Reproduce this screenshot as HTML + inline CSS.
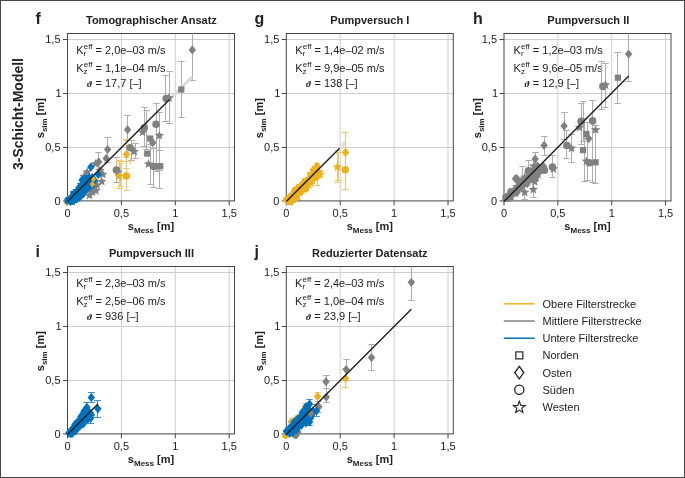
<!DOCTYPE html><html><head><meta charset="utf-8"><style>html,body{margin:0;padding:0;background:#fff;overflow:hidden;}svg{display:block;will-change:transform;}text{font-family:"Liberation Sans", sans-serif;fill:#222;}.tk{font-size:11px;}.ti{font-size:11px;font-weight:bold;}.lt{font-size:16px;font-weight:bold;}.xl{font-size:11px;font-weight:bold;}.an{font-size:11px;}.lg{font-size:11px;}</style></head><body>
<svg width="685" height="478" viewBox="0 0 685 478">
<rect x="0.5" y="0.5" width="684" height="477" fill="#fff" stroke="#474747" stroke-width="1"/>
<line x1="121.40" y1="33.5" x2="121.40" y2="200.9" stroke="#cdcdcd" stroke-width="1"/>
<line x1="67.5" y1="147.50" x2="234.5" y2="147.50" stroke="#cdcdcd" stroke-width="1"/>
<line x1="175.30" y1="33.5" x2="175.30" y2="200.9" stroke="#cdcdcd" stroke-width="1"/>
<line x1="67.5" y1="93.50" x2="234.5" y2="93.50" stroke="#cdcdcd" stroke-width="1"/>
<line x1="229.20" y1="33.5" x2="229.20" y2="200.9" stroke="#cdcdcd" stroke-width="1"/>
<line x1="67.5" y1="39.50" x2="234.5" y2="39.50" stroke="#cdcdcd" stroke-width="1"/>
<line x1="340.20" y1="33.5" x2="340.20" y2="200.9" stroke="#cdcdcd" stroke-width="1"/>
<line x1="286.3" y1="147.50" x2="453.3" y2="147.50" stroke="#cdcdcd" stroke-width="1"/>
<line x1="394.10" y1="33.5" x2="394.10" y2="200.9" stroke="#cdcdcd" stroke-width="1"/>
<line x1="286.3" y1="93.50" x2="453.3" y2="93.50" stroke="#cdcdcd" stroke-width="1"/>
<line x1="448.00" y1="33.5" x2="448.00" y2="200.9" stroke="#cdcdcd" stroke-width="1"/>
<line x1="286.3" y1="39.50" x2="453.3" y2="39.50" stroke="#cdcdcd" stroke-width="1"/>
<line x1="557.85" y1="33.5" x2="557.85" y2="200.9" stroke="#cdcdcd" stroke-width="1"/>
<line x1="504.0" y1="147.50" x2="671.0" y2="147.50" stroke="#cdcdcd" stroke-width="1"/>
<line x1="611.70" y1="33.5" x2="611.70" y2="200.9" stroke="#cdcdcd" stroke-width="1"/>
<line x1="504.0" y1="93.50" x2="671.0" y2="93.50" stroke="#cdcdcd" stroke-width="1"/>
<line x1="665.55" y1="33.5" x2="665.55" y2="200.9" stroke="#cdcdcd" stroke-width="1"/>
<line x1="504.0" y1="39.50" x2="671.0" y2="39.50" stroke="#cdcdcd" stroke-width="1"/>
<line x1="121.40" y1="266.5" x2="121.40" y2="433.9" stroke="#cdcdcd" stroke-width="1"/>
<line x1="67.5" y1="380.50" x2="234.5" y2="380.50" stroke="#cdcdcd" stroke-width="1"/>
<line x1="175.30" y1="266.5" x2="175.30" y2="433.9" stroke="#cdcdcd" stroke-width="1"/>
<line x1="67.5" y1="326.50" x2="234.5" y2="326.50" stroke="#cdcdcd" stroke-width="1"/>
<line x1="229.20" y1="266.5" x2="229.20" y2="433.9" stroke="#cdcdcd" stroke-width="1"/>
<line x1="67.5" y1="272.50" x2="234.5" y2="272.50" stroke="#cdcdcd" stroke-width="1"/>
<line x1="340.20" y1="266.5" x2="340.20" y2="433.9" stroke="#cdcdcd" stroke-width="1"/>
<line x1="286.3" y1="380.50" x2="453.3" y2="380.50" stroke="#cdcdcd" stroke-width="1"/>
<line x1="394.10" y1="266.5" x2="394.10" y2="433.9" stroke="#cdcdcd" stroke-width="1"/>
<line x1="286.3" y1="326.50" x2="453.3" y2="326.50" stroke="#cdcdcd" stroke-width="1"/>
<line x1="448.00" y1="266.5" x2="448.00" y2="433.9" stroke="#cdcdcd" stroke-width="1"/>
<line x1="286.3" y1="272.50" x2="453.3" y2="272.50" stroke="#cdcdcd" stroke-width="1"/>
<rect x="67.5" y="33.5" width="167.00" height="167.40" fill="none" stroke="#444" stroke-width="1"/>
<line x1="67.50" y1="200.9" x2="67.50" y2="205.4" stroke="#444" stroke-width="1"/>
<line x1="63.0" y1="200.90" x2="67.5" y2="200.90" stroke="#444" stroke-width="1"/>
<line x1="121.40" y1="200.9" x2="121.40" y2="205.4" stroke="#444" stroke-width="1"/>
<line x1="63.0" y1="147.50" x2="67.5" y2="147.50" stroke="#444" stroke-width="1"/>
<line x1="175.30" y1="200.9" x2="175.30" y2="205.4" stroke="#444" stroke-width="1"/>
<line x1="63.0" y1="93.50" x2="67.5" y2="93.50" stroke="#444" stroke-width="1"/>
<line x1="229.20" y1="200.9" x2="229.20" y2="205.4" stroke="#444" stroke-width="1"/>
<line x1="63.0" y1="39.50" x2="67.5" y2="39.50" stroke="#444" stroke-width="1"/>
<text x="67.50" y="217.20" text-anchor="middle" class="tk">0</text>
<text x="60.56" y="204.80" text-anchor="end" class="tk">0</text>
<text x="121.40" y="217.20" text-anchor="middle" class="tk">0,5</text>
<text x="60.56" y="151.40" text-anchor="end" class="tk">0,5</text>
<text x="175.30" y="217.20" text-anchor="middle" class="tk">1</text>
<text x="61.55" y="97.40" text-anchor="end" class="tk">1</text>
<text x="229.20" y="217.20" text-anchor="middle" class="tk">1,5</text>
<text x="60.56" y="43.40" text-anchor="end" class="tk">1,5</text>
<text x="151.40" y="24.40" text-anchor="middle" class="ti">Tomographischer Ansatz</text>
<text x="35.60" y="24.10" class="lt">f</text>
<text x="151.00" y="229.70" text-anchor="middle" class="xl">s<tspan font-size="8" dy="3.2">Mess</tspan><tspan dy="-3.2"> [m]</tspan></text>
<text transform="translate(44.00,118.20) rotate(-90)" text-anchor="middle" class="xl">s<tspan font-size="8" dy="3.2">sim</tspan><tspan dy="-3.2"> [m]</tspan></text>
<text x="76.25" y="53.80" class="an">K</text>
<text x="83.80" y="49.30" class="an" style="font-size:8px">eff</text>
<text x="83.60" y="55.60" class="an" style="font-size:8px">r</text>
<text x="95.50" y="53.80" class="an">= 2,0e–03 m/s</text>
<text x="76.25" y="71.80" class="an">K</text>
<text x="83.80" y="67.30" class="an" style="font-size:8px">eff</text>
<text x="83.60" y="73.60" class="an" style="font-size:8px">z</text>
<text x="95.50" y="71.80" class="an">= 1,1e–04 m/s</text>
<text x="87.10" y="86.50" class="an" style="font-family:Liberation Serif;font-style:italic;font-weight:bold;font-size:9px">ϑ</text>
<text x="95.50" y="86.50" class="an">= 17,7 [–]</text>
<rect x="286.3" y="33.5" width="167.00" height="167.40" fill="none" stroke="#444" stroke-width="1"/>
<line x1="286.30" y1="200.9" x2="286.30" y2="205.4" stroke="#444" stroke-width="1"/>
<line x1="281.8" y1="200.90" x2="286.3" y2="200.90" stroke="#444" stroke-width="1"/>
<line x1="340.20" y1="200.9" x2="340.20" y2="205.4" stroke="#444" stroke-width="1"/>
<line x1="281.8" y1="147.50" x2="286.3" y2="147.50" stroke="#444" stroke-width="1"/>
<line x1="394.10" y1="200.9" x2="394.10" y2="205.4" stroke="#444" stroke-width="1"/>
<line x1="281.8" y1="93.50" x2="286.3" y2="93.50" stroke="#444" stroke-width="1"/>
<line x1="448.00" y1="200.9" x2="448.00" y2="205.4" stroke="#444" stroke-width="1"/>
<line x1="281.8" y1="39.50" x2="286.3" y2="39.50" stroke="#444" stroke-width="1"/>
<text x="286.30" y="217.20" text-anchor="middle" class="tk">0</text>
<text x="279.36" y="204.80" text-anchor="end" class="tk">0</text>
<text x="340.20" y="217.20" text-anchor="middle" class="tk">0,5</text>
<text x="279.36" y="151.40" text-anchor="end" class="tk">0,5</text>
<text x="394.10" y="217.20" text-anchor="middle" class="tk">1</text>
<text x="280.35" y="97.40" text-anchor="end" class="tk">1</text>
<text x="448.00" y="217.20" text-anchor="middle" class="tk">1,5</text>
<text x="279.36" y="43.40" text-anchor="end" class="tk">1,5</text>
<text x="369.80" y="24.40" text-anchor="middle" class="ti">Pumpversuch I</text>
<text x="254.60" y="24.10" class="lt">g</text>
<text x="369.80" y="229.70" text-anchor="middle" class="xl">s<tspan font-size="8" dy="3.2">Mess</tspan><tspan dy="-3.2"> [m]</tspan></text>
<text transform="translate(262.80,118.20) rotate(-90)" text-anchor="middle" class="xl">s<tspan font-size="8" dy="3.2">sim</tspan><tspan dy="-3.2"> [m]</tspan></text>
<text x="295.25" y="53.80" class="an">K</text>
<text x="302.80" y="49.30" class="an" style="font-size:8px">eff</text>
<text x="302.60" y="55.60" class="an" style="font-size:8px">r</text>
<text x="314.50" y="53.80" class="an">= 1,4e–02 m/s</text>
<text x="295.25" y="71.80" class="an">K</text>
<text x="302.80" y="67.30" class="an" style="font-size:8px">eff</text>
<text x="302.60" y="73.60" class="an" style="font-size:8px">z</text>
<text x="314.50" y="71.80" class="an">= 9,9e–05 m/s</text>
<text x="306.10" y="86.50" class="an" style="font-family:Liberation Serif;font-style:italic;font-weight:bold;font-size:9px">ϑ</text>
<text x="314.50" y="86.50" class="an">= 138 [–]</text>
<rect x="504.0" y="33.5" width="167.00" height="167.40" fill="none" stroke="#444" stroke-width="1"/>
<line x1="504.00" y1="200.9" x2="504.00" y2="205.4" stroke="#444" stroke-width="1"/>
<line x1="499.5" y1="200.90" x2="504.0" y2="200.90" stroke="#444" stroke-width="1"/>
<line x1="557.85" y1="200.9" x2="557.85" y2="205.4" stroke="#444" stroke-width="1"/>
<line x1="499.5" y1="147.50" x2="504.0" y2="147.50" stroke="#444" stroke-width="1"/>
<line x1="611.70" y1="200.9" x2="611.70" y2="205.4" stroke="#444" stroke-width="1"/>
<line x1="499.5" y1="93.50" x2="504.0" y2="93.50" stroke="#444" stroke-width="1"/>
<line x1="665.55" y1="200.9" x2="665.55" y2="205.4" stroke="#444" stroke-width="1"/>
<line x1="499.5" y1="39.50" x2="504.0" y2="39.50" stroke="#444" stroke-width="1"/>
<text x="504.00" y="217.20" text-anchor="middle" class="tk">0</text>
<text x="497.06" y="204.80" text-anchor="end" class="tk">0</text>
<text x="557.85" y="217.20" text-anchor="middle" class="tk">0,5</text>
<text x="497.06" y="151.40" text-anchor="end" class="tk">0,5</text>
<text x="611.70" y="217.20" text-anchor="middle" class="tk">1</text>
<text x="498.05" y="97.40" text-anchor="end" class="tk">1</text>
<text x="665.55" y="217.20" text-anchor="middle" class="tk">1,5</text>
<text x="497.06" y="43.40" text-anchor="end" class="tk">1,5</text>
<text x="588.30" y="24.40" text-anchor="middle" class="ti">Pumpversuch II</text>
<text x="472.90" y="24.10" class="lt">h</text>
<text x="587.50" y="229.70" text-anchor="middle" class="xl">s<tspan font-size="8" dy="3.2">Mess</tspan><tspan dy="-3.2"> [m]</tspan></text>
<text transform="translate(480.50,118.20) rotate(-90)" text-anchor="middle" class="xl">s<tspan font-size="8" dy="3.2">sim</tspan><tspan dy="-3.2"> [m]</tspan></text>
<text x="513.55" y="53.80" class="an">K</text>
<text x="521.10" y="49.30" class="an" style="font-size:8px">eff</text>
<text x="520.90" y="55.60" class="an" style="font-size:8px">r</text>
<text x="532.80" y="53.80" class="an">= 1,2e–03 m/s</text>
<text x="513.55" y="71.80" class="an">K</text>
<text x="521.10" y="67.30" class="an" style="font-size:8px">eff</text>
<text x="520.90" y="73.60" class="an" style="font-size:8px">z</text>
<text x="532.80" y="71.80" class="an">= 9,6e–05 m/s</text>
<text x="524.40" y="86.50" class="an" style="font-family:Liberation Serif;font-style:italic;font-weight:bold;font-size:9px">ϑ</text>
<text x="532.80" y="86.50" class="an">= 12,9 [–]</text>
<rect x="67.5" y="266.5" width="167.00" height="167.40" fill="none" stroke="#444" stroke-width="1"/>
<line x1="67.50" y1="433.9" x2="67.50" y2="438.4" stroke="#444" stroke-width="1"/>
<line x1="63.0" y1="433.90" x2="67.5" y2="433.90" stroke="#444" stroke-width="1"/>
<line x1="121.40" y1="433.9" x2="121.40" y2="438.4" stroke="#444" stroke-width="1"/>
<line x1="63.0" y1="380.50" x2="67.5" y2="380.50" stroke="#444" stroke-width="1"/>
<line x1="175.30" y1="433.9" x2="175.30" y2="438.4" stroke="#444" stroke-width="1"/>
<line x1="63.0" y1="326.50" x2="67.5" y2="326.50" stroke="#444" stroke-width="1"/>
<line x1="229.20" y1="433.9" x2="229.20" y2="438.4" stroke="#444" stroke-width="1"/>
<line x1="63.0" y1="272.50" x2="67.5" y2="272.50" stroke="#444" stroke-width="1"/>
<text x="67.50" y="450.20" text-anchor="middle" class="tk">0</text>
<text x="60.56" y="437.80" text-anchor="end" class="tk">0</text>
<text x="121.40" y="450.20" text-anchor="middle" class="tk">0,5</text>
<text x="60.56" y="384.40" text-anchor="end" class="tk">0,5</text>
<text x="175.30" y="450.20" text-anchor="middle" class="tk">1</text>
<text x="61.55" y="330.40" text-anchor="end" class="tk">1</text>
<text x="229.20" y="450.20" text-anchor="middle" class="tk">1,5</text>
<text x="60.56" y="276.40" text-anchor="end" class="tk">1,5</text>
<text x="151.50" y="257.40" text-anchor="middle" class="ti">Pumpversuch III</text>
<text x="35.60" y="257.10" class="lt">i</text>
<text x="151.00" y="462.70" text-anchor="middle" class="xl">s<tspan font-size="8" dy="3.2">Mess</tspan><tspan dy="-3.2"> [m]</tspan></text>
<text transform="translate(44.00,351.20) rotate(-90)" text-anchor="middle" class="xl">s<tspan font-size="8" dy="3.2">sim</tspan><tspan dy="-3.2"> [m]</tspan></text>
<text x="76.25" y="286.80" class="an">K</text>
<text x="83.80" y="282.30" class="an" style="font-size:8px">eff</text>
<text x="83.60" y="288.60" class="an" style="font-size:8px">r</text>
<text x="95.50" y="286.80" class="an">= 2,3e–03 m/s</text>
<text x="76.25" y="304.80" class="an">K</text>
<text x="83.80" y="300.30" class="an" style="font-size:8px">eff</text>
<text x="83.60" y="306.60" class="an" style="font-size:8px">z</text>
<text x="95.50" y="304.80" class="an">= 2,5e–06 m/s</text>
<text x="87.10" y="319.50" class="an" style="font-family:Liberation Serif;font-style:italic;font-weight:bold;font-size:9px">ϑ</text>
<text x="95.50" y="319.50" class="an">= 936 [–]</text>
<rect x="286.3" y="266.5" width="167.00" height="167.40" fill="none" stroke="#444" stroke-width="1"/>
<line x1="286.30" y1="433.9" x2="286.30" y2="438.4" stroke="#444" stroke-width="1"/>
<line x1="281.8" y1="433.90" x2="286.3" y2="433.90" stroke="#444" stroke-width="1"/>
<line x1="340.20" y1="433.9" x2="340.20" y2="438.4" stroke="#444" stroke-width="1"/>
<line x1="281.8" y1="380.50" x2="286.3" y2="380.50" stroke="#444" stroke-width="1"/>
<line x1="394.10" y1="433.9" x2="394.10" y2="438.4" stroke="#444" stroke-width="1"/>
<line x1="281.8" y1="326.50" x2="286.3" y2="326.50" stroke="#444" stroke-width="1"/>
<line x1="448.00" y1="433.9" x2="448.00" y2="438.4" stroke="#444" stroke-width="1"/>
<line x1="281.8" y1="272.50" x2="286.3" y2="272.50" stroke="#444" stroke-width="1"/>
<text x="286.30" y="450.20" text-anchor="middle" class="tk">0</text>
<text x="279.36" y="437.80" text-anchor="end" class="tk">0</text>
<text x="340.20" y="450.20" text-anchor="middle" class="tk">0,5</text>
<text x="279.36" y="384.40" text-anchor="end" class="tk">0,5</text>
<text x="394.10" y="450.20" text-anchor="middle" class="tk">1</text>
<text x="280.35" y="330.40" text-anchor="end" class="tk">1</text>
<text x="448.00" y="450.20" text-anchor="middle" class="tk">1,5</text>
<text x="279.36" y="276.40" text-anchor="end" class="tk">1,5</text>
<text x="369.80" y="257.40" text-anchor="middle" class="ti">Reduzierter Datensatz</text>
<text x="254.40" y="257.10" class="lt">j</text>
<text x="369.80" y="462.70" text-anchor="middle" class="xl">s<tspan font-size="8" dy="3.2">Mess</tspan><tspan dy="-3.2"> [m]</tspan></text>
<text transform="translate(262.80,351.20) rotate(-90)" text-anchor="middle" class="xl">s<tspan font-size="8" dy="3.2">sim</tspan><tspan dy="-3.2"> [m]</tspan></text>
<text x="295.05" y="286.80" class="an">K</text>
<text x="302.60" y="282.30" class="an" style="font-size:8px">eff</text>
<text x="302.40" y="288.60" class="an" style="font-size:8px">r</text>
<text x="314.30" y="286.80" class="an">= 2,4e–03 m/s</text>
<text x="295.05" y="304.80" class="an">K</text>
<text x="302.60" y="300.30" class="an" style="font-size:8px">eff</text>
<text x="302.40" y="306.60" class="an" style="font-size:8px">z</text>
<text x="314.30" y="304.80" class="an">= 1,0e–04 m/s</text>
<text x="305.90" y="319.50" class="an" style="font-family:Liberation Serif;font-style:italic;font-weight:bold;font-size:9px">ϑ</text>
<text x="314.30" y="319.50" class="an">= 23,9 [–]</text>
<defs>
<clipPath id="cf"><rect x="63.5" y="33.5" width="171.00" height="172.40"/></clipPath>
<clipPath id="cg"><rect x="282.3" y="33.5" width="171.00" height="172.40"/></clipPath>
<clipPath id="ch"><rect x="500.0" y="33.5" width="171.00" height="172.40"/></clipPath>
<clipPath id="ci"><rect x="63.5" y="266.5" width="171.00" height="172.40"/></clipPath>
<clipPath id="cj"><rect x="282.3" y="266.5" width="171.00" height="172.40"/></clipPath>
</defs>
<g clip-path="url(#cf)">
<path d="M192.5,30.5V80.5M189.3,30.5H195.7M189.3,80.5H195.7" stroke="#adadad" stroke-width="1" fill="none"/>
<path d="M181.5,61.5V117.5M178.3,61.5H184.7M178.3,117.5H184.7" stroke="#adadad" stroke-width="1" fill="none"/>
<path d="M165.5,75.5V121.5M162.3,75.5H168.7M162.3,121.5H168.7" stroke="#adadad" stroke-width="1" fill="none"/>
<path d="M169.5,71.5V123.5M166.3,71.5H172.7M166.3,123.5H172.7" stroke="#adadad" stroke-width="1" fill="none"/>
<path d="M156.5,103.5V171.5M153.3,103.5H159.7M153.3,171.5H159.7" stroke="#adadad" stroke-width="1" fill="none"/>
<path d="M159.5,112.5V170.5M156.3,112.5H162.7M156.3,170.5H162.7" stroke="#adadad" stroke-width="1" fill="none"/>
<path d="M144.5,107.5V146.5M141.3,107.5H147.7M141.3,146.5H147.7" stroke="#adadad" stroke-width="1" fill="none"/>
<path d="M146.5,110.5V149.5M143.3,110.5H149.7M143.3,149.5H149.7" stroke="#adadad" stroke-width="1" fill="none"/>
<path d="M127.5,115.5V140.5M124.3,115.5H130.7M124.3,140.5H130.7" stroke="#adadad" stroke-width="1" fill="none"/>
<path d="M150.5,144.5V184.5M147.3,144.5H153.7M147.3,184.5H153.7" stroke="#adadad" stroke-width="1" fill="none"/>
<path d="M153.5,148.5V187.5M150.3,148.5H156.7M150.3,187.5H156.7" stroke="#adadad" stroke-width="1" fill="none"/>
<path d="M159.5,150.5V188.5M156.3,150.5H162.7M156.3,188.5H162.7" stroke="#adadad" stroke-width="1" fill="none"/>
<path d="M116.5,157.5V182.5M113.3,157.5H119.7M113.3,182.5H119.7" stroke="#adadad" stroke-width="1" fill="none"/>
<path d="M107.5,137.5V162.5M104.3,137.5H110.7M104.3,162.5H110.7" stroke="#adadad" stroke-width="1" fill="none"/>
<path d="M98.5,152.5V172.5M95.3,152.5H101.7M95.3,172.5H101.7" stroke="#adadad" stroke-width="1" fill="none"/>
<path d="M131.5,140.5V160.5M128.3,140.5H134.7M128.3,160.5H134.7" stroke="#adadad" stroke-width="1" fill="none"/>
<path d="M135.5,143.5V158.5M132.3,143.5H138.7M132.3,158.5H138.7" stroke="#adadad" stroke-width="1" fill="none"/>
<path d="M126.5,157.5V190.5M123.3,157.5H129.7M123.3,190.5H129.7" stroke="#F2C661" stroke-width="1" fill="none"/>
<path d="M126.5,139.5V168.5M123.3,139.5H129.7M123.3,168.5H129.7" stroke="#F2C661" stroke-width="1" fill="none"/>
<path d="M119.5,160.5V188.5M116.3,160.5H122.7M116.3,188.5H122.7" stroke="#F2C661" stroke-width="1" fill="none"/>
<path d="M120.5,163.5V186.5M117.3,163.5H123.7M117.3,186.5H123.7" stroke="#F2C661" stroke-width="1" fill="none"/>
<path d="M116.5,161.5H130.5M116.5,158.3V164.7M130.5,158.3V164.7" stroke="#F2C661" stroke-width="1" fill="none"/>
<line x1="169.5" y1="99.5" x2="192.3" y2="76.7" stroke="#dadada" stroke-width="2.8" stroke-linecap="butt"/>
<path d="M192.3,45.3L196.0,49.9L192.3,54.5L188.6,49.9Z" fill="#808080"/>
<rect x="178.2" y="86.4" width="6.2" height="6.2" fill="#808080"/>
<circle cx="166.2" cy="98.5" r="3.8" fill="#808080"/>
<path d="M169.0,93.0L170.3,96.1L173.7,96.4L171.1,98.6L171.9,101.9L169.0,100.1L166.1,101.9L166.9,98.6L164.3,96.4L167.7,96.1Z" fill="#808080"/>
<path d="M127.6,125.1L131.3,129.7L127.6,134.3L123.9,129.7Z" fill="#808080"/>
<circle cx="144.3" cy="127.7" r="3.8" fill="#808080"/>
<path d="M142.6,127.3L143.9,130.4L147.3,130.7L144.7,132.9L145.5,136.2L142.6,134.4L139.7,136.2L140.5,132.9L137.9,130.7L141.3,130.4Z" fill="#808080"/>
<circle cx="156.0" cy="124.3" r="3.8" fill="#808080"/>
<path d="M159.4,130.7L160.7,133.8L164.1,134.1L161.5,136.3L162.3,139.6L159.4,137.8L156.5,139.6L157.3,136.3L154.7,134.1L158.1,133.8Z" fill="#808080"/>
<rect x="147.1" y="135.4" width="6.2" height="6.2" fill="#808080"/>
<path d="M152.7,138.1L156.4,142.7L152.7,147.3L149.0,142.7Z" fill="#808080"/>
<rect x="144.1" y="150.5" width="6.2" height="6.2" fill="#808080"/>
<circle cx="130.1" cy="147.7" r="3.8" fill="#808080"/>
<path d="M134.3,146.6L135.6,149.7L139.0,150.0L136.4,152.2L137.2,155.5L134.3,153.7L131.4,155.5L132.2,152.2L129.6,150.0L133.0,149.7Z" fill="#808080"/>
<rect x="154.6" y="163.1" width="6.2" height="6.2" fill="#808080"/>
<rect x="157.1" y="163.1" width="6.2" height="6.2" fill="#808080"/>
<path d="M148.5,159.1L149.8,162.2L153.2,162.5L150.6,164.7L151.4,168.0L148.5,166.2L145.6,168.0L146.4,164.7L143.8,162.5L147.2,162.2Z" fill="#808080"/>
<circle cx="153.7" cy="166.5" r="3.8" fill="#808080"/>
<circle cx="116.4" cy="170.0" r="3.8" fill="#808080"/>
<path d="M118.0,167.5L119.3,170.6L122.7,170.9L120.1,173.1L120.9,176.4L118.0,174.6L115.1,176.4L115.9,173.1L113.3,170.9L116.7,170.6Z" fill="#808080"/>
<path d="M107.6,144.9L111.3,149.5L107.6,154.1L103.9,149.5Z" fill="#808080"/>
<path d="M106.2,153.8L109.9,158.4L106.2,163.0L102.5,158.4Z" fill="#808080"/>
<path d="M126.5,149.7L130.2,154.3L126.5,158.9L122.8,154.3Z" fill="#EDB120"/>
<circle cx="126.3" cy="176.0" r="3.8" fill="#EDB120"/>
<path d="M119.0,171.5L120.3,174.6L123.7,174.9L121.1,177.1L121.9,180.4L119.0,178.6L116.1,180.4L116.9,177.1L114.3,174.9L117.7,174.6Z" fill="#EDB120"/>
<path d="M66.5,196.9L70.2,201.5L66.5,206.1L62.8,201.5Z" fill="#EDB120"/>
<circle cx="70.0" cy="199.0" r="3.8" fill="#EDB120"/>
<path d="M87.1,167.2L88.4,170.3L91.8,170.6L89.2,172.8L90.0,176.1L87.1,174.3L84.2,176.1L85.0,172.8L82.4,170.6L85.8,170.3Z" fill="#808080"/>
<path d="M98.7,157.2L102.4,161.8L98.7,166.4L95.0,161.8Z" fill="#808080"/>
<path d="M95.5,159.0L96.8,162.1L100.2,162.4L97.6,164.6L98.4,167.9L95.5,166.1L92.6,167.9L93.4,164.6L90.8,162.4L94.2,162.1Z" fill="#808080"/>
<path d="M84.0,171.5L85.3,174.6L88.7,174.9L86.1,177.1L86.9,180.4L84.0,178.6L81.1,180.4L81.9,177.1L79.3,174.9L82.7,174.6Z" fill="#808080"/>
<circle cx="79.9" cy="192.6" r="3.8" fill="#0072BD"/>
<path d="M78.1,185.9L81.8,190.5L78.1,195.1L74.4,190.5Z" fill="#0072BD"/>
<circle cx="75.7" cy="198.1" r="3.8" fill="#0072BD"/>
<path d="M81.3,181.6L85.0,186.2L81.3,190.8L77.6,186.2Z" fill="#0072BD"/>
<path d="M72.9,191.4L76.6,196.0L72.9,200.6L69.2,196.0Z" fill="#0072BD"/>
<path d="M89.3,172.1L90.6,175.2L94.0,175.4L91.4,177.6L92.2,180.9L89.3,179.2L86.4,180.9L87.2,177.6L84.6,175.4L88.0,175.2Z" fill="#0072BD"/>
<path d="M73.0,195.2L76.7,199.8L73.0,204.4L69.3,199.8Z" fill="#0072BD"/>
<path d="M78.7,183.5L82.4,188.1L78.7,192.7L75.0,188.1Z" fill="#0072BD"/>
<rect x="71.6" y="196.9" width="6.2" height="6.2" fill="#0072BD"/>
<rect x="83.0" y="182.3" width="6.2" height="6.2" fill="#0072BD"/>
<path d="M92.1,175.4L95.8,180.0L92.1,184.6L88.4,180.0Z" fill="#0072BD"/>
<circle cx="88.7" cy="186.1" r="3.8" fill="#0072BD"/>
<path d="M80.3,186.1L84.0,190.7L80.3,195.3L76.6,190.7Z" fill="#0072BD"/>
<path d="M79.1,190.3L80.4,193.4L83.7,193.7L81.2,195.9L82.0,199.1L79.1,197.4L76.2,199.1L77.0,195.9L74.4,193.7L77.8,193.4Z" fill="#0072BD"/>
<circle cx="77.3" cy="194.3" r="3.8" fill="#0072BD"/>
<path d="M94.7,179.0L98.4,183.6L94.7,188.2L91.0,183.6Z" fill="#0072BD"/>
<path d="M77.6,188.0L78.9,191.2L82.3,191.4L79.7,193.6L80.5,196.9L77.6,195.1L74.7,196.9L75.5,193.6L72.9,191.4L76.3,191.2Z" fill="#0072BD"/>
<path d="M81.9,188.7L83.2,191.8L86.6,192.1L84.0,194.3L84.8,197.5L81.9,195.8L79.1,197.5L79.8,194.3L77.3,192.1L80.6,191.8Z" fill="#0072BD"/>
<path d="M89.2,174.6L90.5,177.7L93.9,178.0L91.3,180.2L92.1,183.5L89.2,181.7L86.3,183.5L87.1,180.2L84.6,178.0L87.9,177.7Z" fill="#0072BD"/>
<path d="M73.9,193.5L75.2,196.6L78.6,196.9L76.0,199.1L76.8,202.4L73.9,200.6L71.0,202.4L71.8,199.1L69.2,196.9L72.6,196.6Z" fill="#0072BD"/>
<path d="M78.2,192.2L81.9,196.8L78.2,201.4L74.5,196.8Z" fill="#0072BD"/>
<path d="M70.6,193.4L74.3,198.0L70.6,202.6L66.9,198.0Z" fill="#0072BD"/>
<rect x="68.8" y="198.6" width="6.2" height="6.2" fill="#0072BD"/>
<rect x="83.2" y="180.0" width="6.2" height="6.2" fill="#0072BD"/>
<path d="M92.2,172.9L95.9,177.5L92.2,182.1L88.5,177.5Z" fill="#0072BD"/>
<path d="M70.6,196.9L74.3,201.5L70.6,206.1L66.9,201.5Z" fill="#0072BD"/>
<path d="M83.6,180.2L87.3,184.8L83.6,189.4L79.9,184.8Z" fill="#0072BD"/>
<rect x="70.3" y="191.0" width="6.2" height="6.2" fill="#0072BD"/>
<path d="M91.8,178.1L93.1,181.2L96.4,181.5L93.9,183.7L94.7,186.9L91.8,185.2L88.9,186.9L89.7,183.7L87.1,181.5L90.5,181.2Z" fill="#0072BD"/>
<path d="M94.9,176.5L98.6,181.1L94.9,185.7L91.2,181.1Z" fill="#0072BD"/>
<rect x="77.5" y="185.7" width="6.2" height="6.2" fill="#0072BD"/>
<rect x="71.4" y="193.2" width="6.2" height="6.2" fill="#0072BD"/>
<path d="M89.0,179.3L90.3,182.5L93.7,182.7L91.1,184.9L91.9,188.2L89.0,186.4L86.1,188.2L86.9,184.9L84.3,182.7L87.7,182.5Z" fill="#0072BD"/>
<path d="M89.3,176.7L93.0,181.3L89.3,185.9L85.6,181.3Z" fill="#0072BD"/>
<path d="M75.3,189.5L79.0,194.1L75.3,198.7L71.6,194.1Z" fill="#0072BD"/>
<path d="M72.1,193.5L73.4,196.6L76.8,196.9L74.2,199.1L75.0,202.4L72.1,200.6L69.2,202.4L70.0,199.1L67.4,196.9L70.8,196.6Z" fill="#0072BD"/>
<path d="M86.4,176.3L87.7,179.4L91.1,179.7L88.5,181.9L89.3,185.2L86.4,183.4L83.5,185.2L84.3,181.9L81.8,179.7L85.1,179.4Z" fill="#0072BD"/>
<circle cx="88.0" cy="188.6" r="3.8" fill="#0072BD"/>
<path d="M71.5,195.2L72.8,198.3L76.1,198.6L73.6,200.8L74.4,204.1L71.5,202.3L68.6,204.1L69.4,200.8L66.8,198.6L70.2,198.3Z" fill="#0072BD"/>
<circle cx="86.6" cy="178.2" r="3.8" fill="#0072BD"/>
<path d="M81.0,190.7L84.7,195.3L81.0,199.9L77.3,195.3Z" fill="#0072BD"/>
<path d="M81.3,179.6L82.6,182.7L86.0,183.0L83.4,185.2L84.2,188.5L81.3,186.7L78.5,188.5L79.2,185.2L76.7,183.0L80.0,182.7Z" fill="#0072BD"/>
<rect x="72.7" y="189.1" width="6.2" height="6.2" fill="#0072BD"/>
<path d="M83.2,182.5L86.9,187.1L83.2,191.7L79.5,187.1Z" fill="#0072BD"/>
<rect x="88.0" y="184.0" width="6.2" height="6.2" fill="#0072BD"/>
<path d="M84.8,187.3L86.1,190.4L89.5,190.7L86.9,192.9L87.7,196.1L84.8,194.4L81.9,196.1L82.7,192.9L80.1,190.7L83.5,190.4Z" fill="#0072BD"/>
<rect x="66.6" y="196.9" width="6.2" height="6.2" fill="#0072BD"/>
<path d="M76.5,191.7L80.2,196.3L76.5,200.9L72.8,196.3Z" fill="#0072BD"/>
<path d="M91.5,180.3L95.2,184.9L91.5,189.5L87.8,184.9Z" fill="#0072BD"/>
<path d="M85.9,183.0L87.2,186.1L90.6,186.3L88.0,188.5L88.8,191.8L85.9,190.1L83.0,191.8L83.8,188.5L81.2,186.3L84.6,186.1Z" fill="#0072BD"/>
<circle cx="82.6" cy="191.1" r="3.8" fill="#0072BD"/>
<circle cx="85.2" cy="189.8" r="3.8" fill="#0072BD"/>
<path d="M83.8,177.9L85.1,181.0L88.5,181.3L85.9,183.5L86.7,186.8L83.8,185.0L81.0,186.8L81.8,183.5L79.2,181.3L82.6,181.0Z" fill="#0072BD"/>
<path d="M82.9,184.6L86.6,189.2L82.9,193.8L79.2,189.2Z" fill="#0072BD"/>
<circle cx="68.1" cy="200.4" r="3.8" fill="#0072BD"/>
<path d="M82.0,175.4L85.7,180.0L82.0,184.6L78.3,180.0Z" fill="#0072BD"/>
<path d="M85.0,182.4L88.7,187.0L85.0,191.6L81.3,187.0Z" fill="#0072BD"/>
<circle cx="86.0" cy="183.0" r="3.8" fill="#0072BD"/>
<path d="M78.0,189.4L81.7,194.0L78.0,198.6L74.3,194.0Z" fill="#0072BD"/>
<path d="M75.0,193.9L78.7,198.5L75.0,203.1L71.3,198.5Z" fill="#0072BD"/>
<path d="M79.5,192.9L83.2,197.5L79.5,202.1L75.8,197.5Z" fill="#0072BD"/>
<path d="M83.0,189.4L86.7,194.0L83.0,198.6L79.3,194.0Z" fill="#0072BD"/>
<path d="M102.8,169.5L104.1,172.6L107.5,172.9L104.9,175.1L105.7,178.4L102.8,176.6L99.9,178.4L100.7,175.1L98.1,172.9L101.5,172.6Z" fill="#808080"/>
<path d="M96.0,185.8L97.3,188.9L100.7,189.2L98.1,191.4L98.9,194.7L96.0,192.9L93.1,194.7L93.9,191.4L91.3,189.2L94.7,188.9Z" fill="#808080"/>
<path d="M89.5,190.5L90.8,193.6L94.2,193.9L91.6,196.1L92.4,199.4L89.5,197.6L86.6,199.4L87.4,196.1L84.8,193.9L88.2,193.6Z" fill="#808080"/>
<path d="M101.8,176.7L103.1,179.8L106.5,180.1L103.9,182.3L104.7,185.6L101.8,183.8L98.9,185.6L99.7,182.3L97.1,180.1L100.5,179.8Z" fill="#808080"/>
<path d="M97.0,180.5L98.3,183.6L101.7,183.9L99.1,186.1L99.9,189.4L97.0,187.6L94.1,189.4L94.9,186.1L92.3,183.9L95.7,183.6Z" fill="#808080"/>
<path d="M92.5,187.0L93.8,190.1L97.2,190.4L94.6,192.6L95.4,195.9L92.5,194.1L89.6,195.9L90.4,192.6L87.8,190.4L91.2,190.1Z" fill="#808080"/>
<path d="M100.0,165.5L101.3,168.6L104.7,168.9L102.1,171.1L102.9,174.4L100.0,172.6L97.1,174.4L97.9,171.1L95.3,168.9L98.7,168.6Z" fill="#808080"/>
<path d="M93.4,175.9L96.0,179.1L93.4,182.3L90.8,179.1Z" fill="#EDB120"/>
<path d="M92.3,181.1L94.9,184.3L92.3,187.5L89.7,184.3Z" fill="#EDB120"/>
<path d="M90.9,162.5L94.6,167.1L90.9,171.7L87.2,167.1Z" fill="#0072BD"/>
<path d="M98.2,169.8L101.9,174.4L98.2,179.0L94.5,174.4Z" fill="#0072BD"/>
<line x1="67.5" y1="201.5" x2="169.5" y2="99.5" stroke="#1e1e1e" stroke-width="1.4" stroke-linecap="butt"/>
</g>
<g clip-path="url(#cg)">
<path d="M345.5,132.5V189.5M342.3,132.5H348.7M342.3,189.5H348.7" stroke="#F2C661" stroke-width="1" fill="none"/>
<path d="M337.5,150.5V182.5M334.3,150.5H340.7M334.3,182.5H340.7" stroke="#F2C661" stroke-width="1" fill="none"/>
<path d="M338.5,152.5V180.5M335.3,152.5H341.7M335.3,180.5H341.7" stroke="#F2C661" stroke-width="1" fill="none"/>
<path d="M317.5,163.5V185.5M314.5,163.5H320.5M314.5,185.5H320.5" stroke="#F2C661" stroke-width="1" fill="none"/>
<line x1="339.6" y1="149.9" x2="345.5" y2="141.3" stroke="#dcdcdc" stroke-width="2.6" stroke-linecap="butt"/>
<path d="M293.5,192.5V202.5M291.0,192.5H296.0M291.0,202.5H296.0" stroke="#F2C661" stroke-width="1" fill="none"/>
<path d="M298.5,184.5V199.5M296.0,184.5H301.0M296.0,199.5H301.0" stroke="#F2C661" stroke-width="1" fill="none"/>
<path d="M304.5,182.5V189.5M302.0,182.5H307.0M302.0,189.5H307.0" stroke="#F2C661" stroke-width="1" fill="none"/>
<path d="M304.5,178.5V183.5M302.0,178.5H307.0M302.0,183.5H307.0" stroke="#F2C661" stroke-width="1" fill="none"/>
<path d="M309.5,172.5V187.5M307.0,172.5H312.0M307.0,187.5H312.0" stroke="#F2C661" stroke-width="1" fill="none"/>
<path d="M290.8,194.5L294.5,199.1L290.8,203.7L287.1,199.1Z" fill="#EDB120"/>
<circle cx="316.2" cy="177.0" r="3.8" fill="#EDB120"/>
<circle cx="305.4" cy="188.8" r="3.8" fill="#EDB120"/>
<path d="M312.2,175.8L313.5,178.9L316.8,179.2L314.3,181.4L315.1,184.6L312.2,182.9L309.3,184.6L310.1,181.4L307.5,179.2L310.9,178.9Z" fill="#EDB120"/>
<path d="M298.8,188.0L302.5,192.6L298.8,197.2L295.1,192.6Z" fill="#EDB120"/>
<rect x="285.6" y="196.1" width="6.2" height="6.2" fill="#EDB120"/>
<path d="M313.6,173.1L314.9,176.2L318.3,176.5L315.7,178.7L316.5,182.0L313.6,180.2L310.7,182.0L311.5,178.7L308.9,176.5L312.3,176.2Z" fill="#EDB120"/>
<path d="M286.2,195.1L289.9,199.7L286.2,204.3L282.5,199.7Z" fill="#EDB120"/>
<circle cx="306.1" cy="183.6" r="3.8" fill="#EDB120"/>
<rect x="298.9" y="183.9" width="6.2" height="6.2" fill="#EDB120"/>
<path d="M307.3,176.6L311.0,181.2L307.3,185.8L303.6,181.2Z" fill="#EDB120"/>
<rect x="311.8" y="172.0" width="6.2" height="6.2" fill="#EDB120"/>
<path d="M291.7,196.8L295.4,201.4L291.7,206.0L288.0,201.4Z" fill="#EDB120"/>
<path d="M298.1,185.6L299.3,188.7L302.7,189.0L300.1,191.2L300.9,194.5L298.1,192.7L295.2,194.5L296.0,191.2L293.4,189.0L296.8,188.7Z" fill="#EDB120"/>
<path d="M307.0,181.3L310.7,185.9L307.0,190.5L303.3,185.9Z" fill="#EDB120"/>
<circle cx="296.4" cy="193.0" r="3.8" fill="#EDB120"/>
<rect x="296.3" y="184.4" width="6.2" height="6.2" fill="#EDB120"/>
<rect x="290.7" y="195.0" width="6.2" height="6.2" fill="#EDB120"/>
<path d="M312.4,171.0L316.1,175.6L312.4,180.2L308.7,175.6Z" fill="#EDB120"/>
<rect x="313.7" y="168.8" width="6.2" height="6.2" fill="#EDB120"/>
<path d="M310.9,178.3L312.2,181.4L315.5,181.7L313.0,183.9L313.8,187.2L310.9,185.4L308.0,187.2L308.8,183.9L306.2,181.7L309.6,181.4Z" fill="#EDB120"/>
<path d="M320.1,169.4L321.4,172.5L324.8,172.8L322.2,175.0L323.0,178.3L320.1,176.5L317.2,178.3L318.0,175.0L315.4,172.8L318.8,172.5Z" fill="#EDB120"/>
<path d="M300.3,185.4L301.6,188.5L304.9,188.8L302.4,191.0L303.2,194.3L300.3,192.5L297.4,194.3L298.2,191.0L295.6,188.8L299.0,188.5Z" fill="#EDB120"/>
<path d="M292.4,191.6L296.1,196.2L292.4,200.8L288.7,196.2Z" fill="#EDB120"/>
<rect x="301.8" y="178.4" width="6.2" height="6.2" fill="#EDB120"/>
<path d="M309.0,173.8L310.3,176.9L313.6,177.1L311.1,179.3L311.9,182.6L309.0,180.9L306.1,182.6L306.9,179.3L304.3,177.1L307.7,176.9Z" fill="#EDB120"/>
<path d="M297.2,191.0L298.5,194.1L301.8,194.4L299.3,196.6L300.1,199.8L297.2,198.1L294.3,199.8L295.1,196.6L292.5,194.4L295.9,194.1Z" fill="#EDB120"/>
<path d="M319.4,166.9L320.6,170.0L324.0,170.3L321.4,172.5L322.2,175.8L319.4,174.0L316.5,175.8L317.3,172.5L314.7,170.3L318.1,170.0Z" fill="#EDB120"/>
<path d="M296.0,193.3L299.7,197.9L296.0,202.5L292.3,197.9Z" fill="#EDB120"/>
<path d="M308.1,179.1L309.4,182.2L312.8,182.5L310.2,184.7L311.0,188.0L308.1,186.2L305.2,188.0L306.0,184.7L303.5,182.5L306.8,182.2Z" fill="#EDB120"/>
<rect x="301.6" y="183.2" width="6.2" height="6.2" fill="#EDB120"/>
<path d="M290.0,192.0L293.7,196.6L290.0,201.2L286.3,196.6Z" fill="#EDB120"/>
<path d="M302.6,185.0L306.3,189.6L302.6,194.2L298.9,189.6Z" fill="#EDB120"/>
<path d="M314.5,167.8L315.8,170.9L319.1,171.2L316.6,173.4L317.3,176.7L314.5,174.9L311.6,176.7L312.4,173.4L309.8,171.2L313.2,170.9Z" fill="#EDB120"/>
<rect x="307.3" y="172.5" width="6.2" height="6.2" fill="#EDB120"/>
<circle cx="295.4" cy="195.3" r="3.8" fill="#EDB120"/>
<circle cx="303.3" cy="184.4" r="3.8" fill="#EDB120"/>
<circle cx="317.5" cy="174.5" r="3.8" fill="#EDB120"/>
<circle cx="295.3" cy="190.9" r="3.8" fill="#EDB120"/>
<circle cx="289.7" cy="201.4" r="3.8" fill="#EDB120"/>
<circle cx="311.1" cy="178.2" r="3.8" fill="#EDB120"/>
<rect x="291.3" y="190.0" width="6.2" height="6.2" fill="#EDB120"/>
<rect x="306.8" y="177.5" width="6.2" height="6.2" fill="#EDB120"/>
<path d="M301.5,187.4L305.2,192.0L301.5,196.6L297.8,192.0Z" fill="#EDB120"/>
<path d="M345.5,147.8L349.2,152.4L345.5,157.0L341.8,152.4Z" fill="#EDB120"/>
<circle cx="345.2" cy="169.7" r="3.8" fill="#EDB120"/>
<path d="M337.4,162.2L338.7,165.3L342.1,165.6L339.5,167.8L340.3,171.1L337.4,169.3L334.5,171.1L335.3,167.8L332.7,165.6L336.1,165.3Z" fill="#EDB120"/>
<path d="M317.0,161.4L320.7,166.0L317.0,170.6L313.3,166.0Z" fill="#EDB120"/>
<path d="M319.0,169.5L320.3,172.6L323.7,172.9L321.1,175.1L321.9,178.4L319.0,176.6L316.1,178.4L316.9,175.1L314.3,172.9L317.7,172.6Z" fill="#EDB120"/>
<path d="M313.0,165.4L316.7,170.0L313.0,174.6L309.3,170.0Z" fill="#EDB120"/>
<circle cx="296.0" cy="190.0" r="3.8" fill="#EDB120"/>
<path d="M300.0,181.5L301.3,184.6L304.7,184.9L302.1,187.1L302.9,190.4L300.0,188.6L297.1,190.4L297.9,187.1L295.3,184.9L298.7,184.6Z" fill="#EDB120"/>
<line x1="286.3" y1="201.5" x2="339.6" y2="148.3" stroke="#1e1e1e" stroke-width="1.4" stroke-linecap="butt"/>
</g>
<g clip-path="url(#ch)">
<path d="M628.5,30.5V81.5M625.3,30.5H631.7M625.3,81.5H631.7" stroke="#adadad" stroke-width="1" fill="none"/>
<path d="M617.5,52.5V103.5M614.3,52.5H620.7M614.3,103.5H620.7" stroke="#adadad" stroke-width="1" fill="none"/>
<path d="M601.5,61.5V109.5M598.3,61.5H604.7M598.3,109.5H604.7" stroke="#adadad" stroke-width="1" fill="none"/>
<path d="M605.5,63.5V107.5M602.3,63.5H608.7M602.3,107.5H608.7" stroke="#adadad" stroke-width="1" fill="none"/>
<path d="M564.5,112.5V139.5M561.3,112.5H567.7M561.3,139.5H567.7" stroke="#adadad" stroke-width="1" fill="none"/>
<path d="M581.5,103.5V144.5M578.3,103.5H584.7M578.3,144.5H584.7" stroke="#adadad" stroke-width="1" fill="none"/>
<path d="M583.5,101.5V141.5M580.3,101.5H586.7M580.3,141.5H586.7" stroke="#adadad" stroke-width="1" fill="none"/>
<path d="M592.5,100.5V182.5M589.3,100.5H595.7M589.3,182.5H595.7" stroke="#adadad" stroke-width="1" fill="none"/>
<path d="M584.5,118.5V181.5M581.3,118.5H587.7M581.3,181.5H587.7" stroke="#adadad" stroke-width="1" fill="none"/>
<path d="M587.5,122.5V180.5M584.3,122.5H590.7M584.3,180.5H590.7" stroke="#adadad" stroke-width="1" fill="none"/>
<path d="M595.5,125.5V183.5M592.3,125.5H598.7M592.3,183.5H598.7" stroke="#adadad" stroke-width="1" fill="none"/>
<path d="M544.5,136.5V155.5M541.3,136.5H547.7M541.3,155.5H547.7" stroke="#adadad" stroke-width="1" fill="none"/>
<path d="M535.5,152.5V168.5M532.3,152.5H538.7M532.3,168.5H538.7" stroke="#adadad" stroke-width="1" fill="none"/>
<path d="M552.5,155.5V177.5M549.3,155.5H555.7M549.3,177.5H555.7" stroke="#adadad" stroke-width="1" fill="none"/>
<path d="M566.5,130.5V158.5M563.3,130.5H569.7M563.3,158.5H569.7" stroke="#adadad" stroke-width="1" fill="none"/>
<path d="M571.5,134.5V162.5M568.3,134.5H574.7M568.3,162.5H574.7" stroke="#adadad" stroke-width="1" fill="none"/>
<path d="M528.5,160.5V180.5M525.3,160.5H531.7M525.3,180.5H531.7" stroke="#adadad" stroke-width="1" fill="none"/>
<path d="M522.5,166.5V186.5M519.3,166.5H525.7M519.3,186.5H525.7" stroke="#adadad" stroke-width="1" fill="none"/>
<path d="M533.5,180.5V197.5M530.3,180.5H536.7M530.3,197.5H536.7" stroke="#adadad" stroke-width="1" fill="none"/>
<path d="M524.5,183.5V199.5M521.3,183.5H527.7M521.3,199.5H527.7" stroke="#adadad" stroke-width="1" fill="none"/>
<path d="M628.6,49.4L632.3,54.0L628.6,58.6L624.9,54.0Z" fill="#808080"/>
<rect x="614.8" y="74.6" width="6.2" height="6.2" fill="#808080"/>
<circle cx="602.9" cy="86.4" r="3.8" fill="#808080"/>
<path d="M605.5,80.0L606.8,83.1L610.2,83.4L607.6,85.6L608.4,88.9L605.5,87.1L602.6,88.9L603.4,85.6L600.8,83.4L604.2,83.1Z" fill="#808080"/>
<path d="M564.1,121.4L567.8,126.0L564.1,130.6L560.4,126.0Z" fill="#808080"/>
<circle cx="581.1" cy="121.4" r="3.8" fill="#808080"/>
<path d="M579.5,122.6L580.8,125.7L584.2,126.0L581.6,128.2L582.4,131.5L579.5,129.7L576.6,131.5L577.4,128.2L574.8,126.0L578.2,125.7Z" fill="#808080"/>
<circle cx="592.6" cy="120.9" r="3.8" fill="#808080"/>
<path d="M595.6,124.9L596.9,128.0L600.3,128.3L597.7,130.5L598.5,133.8L595.6,132.0L592.7,133.8L593.5,130.5L590.9,128.3L594.3,128.0Z" fill="#808080"/>
<rect x="583.3" y="130.9" width="6.2" height="6.2" fill="#808080"/>
<path d="M588.7,134.0L592.4,138.6L588.7,143.2L585.0,138.6Z" fill="#808080"/>
<rect x="579.9" y="147.0" width="6.2" height="6.2" fill="#808080"/>
<path d="M586.4,156.4L587.7,159.5L591.1,159.8L588.5,162.0L589.3,165.3L586.4,163.5L583.5,165.3L584.3,162.0L581.7,159.8L585.1,159.5Z" fill="#808080"/>
<circle cx="589.4" cy="162.8" r="3.8" fill="#808080"/>
<rect x="592.5" y="159.2" width="6.2" height="6.2" fill="#808080"/>
<circle cx="566.9" cy="145.5" r="3.8" fill="#808080"/>
<path d="M571.5,143.3L572.8,146.4L576.2,146.7L573.6,148.9L574.4,152.2L571.5,150.4L568.6,152.2L569.4,148.9L566.8,146.7L570.2,146.4Z" fill="#808080"/>
<path d="M544.1,140.8L547.8,145.4L544.1,150.0L540.4,145.4Z" fill="#808080"/>
<path d="M535.2,154.5L538.9,159.1L535.2,163.7L531.5,159.1Z" fill="#808080"/>
<path d="M543.6,162.0L547.3,166.6L543.6,171.2L539.9,166.6Z" fill="#808080"/>
<circle cx="552.4" cy="167.1" r="3.8" fill="#808080"/>
<path d="M553.5,164.0L554.8,167.1L558.2,167.4L555.6,169.6L556.4,172.9L553.5,171.1L550.6,172.9L551.4,169.6L548.8,167.4L552.2,167.1Z" fill="#808080"/>
<path d="M515.5,174.1L519.2,178.7L515.5,183.3L511.8,178.7Z" fill="#808080"/>
<path d="M524.7,187.5L526.0,190.6L529.4,190.9L526.8,193.1L527.6,196.4L524.7,194.6L521.8,196.4L522.6,193.1L520.0,190.9L523.4,190.6Z" fill="#808080"/>
<path d="M533.3,184.6L534.6,187.7L538.0,188.0L535.4,190.2L536.2,193.5L533.3,191.7L530.4,193.5L531.2,190.2L528.6,188.0L532.0,187.7Z" fill="#808080"/>
<path d="M534.7,176.8L536.0,179.9L539.4,180.2L536.8,182.4L537.6,185.7L534.7,183.9L531.8,185.7L532.6,182.4L530.0,180.2L533.4,179.9Z" fill="#808080"/>
<path d="M538.2,169.7L539.5,172.8L542.9,173.1L540.3,175.3L541.1,178.6L538.2,176.8L535.3,178.6L536.1,175.3L533.5,173.1L536.9,172.8Z" fill="#808080"/>
<circle cx="529.3" cy="171.6" r="3.8" fill="#808080"/>
<circle cx="528.4" cy="170.7" r="3.8" fill="#808080"/>
<path d="M516.9,174.1L520.6,178.7L516.9,183.3L513.2,178.7Z" fill="#808080"/>
<circle cx="507.9" cy="196.3" r="3.8" fill="#808080"/>
<path d="M530.8,167.0L532.1,170.1L535.5,170.4L532.9,172.6L533.7,175.9L530.8,174.1L527.9,175.9L528.7,172.6L526.1,170.4L529.5,170.1Z" fill="#808080"/>
<rect x="526.7" y="176.7" width="6.2" height="6.2" fill="#808080"/>
<circle cx="535.0" cy="178.6" r="3.8" fill="#808080"/>
<rect x="536.8" y="167.1" width="6.2" height="6.2" fill="#808080"/>
<rect x="502.3" y="194.8" width="6.2" height="6.2" fill="#808080"/>
<path d="M523.8,179.5L527.5,184.1L523.8,188.7L520.1,184.1Z" fill="#808080"/>
<circle cx="508.0" cy="198.2" r="3.8" fill="#808080"/>
<rect x="522.9" y="177.4" width="6.2" height="6.2" fill="#808080"/>
<path d="M527.2,179.1L530.9,183.7L527.2,188.3L523.5,183.7Z" fill="#808080"/>
<circle cx="519.5" cy="181.7" r="3.8" fill="#808080"/>
<rect x="507.5" y="194.0" width="6.2" height="6.2" fill="#808080"/>
<path d="M517.1,187.7L520.8,192.3L517.1,196.9L513.4,192.3Z" fill="#808080"/>
<path d="M516.8,181.8L518.1,184.9L521.4,185.2L518.9,187.4L519.7,190.7L516.8,188.9L513.9,190.7L514.7,187.4L512.1,185.2L515.5,184.9Z" fill="#808080"/>
<path d="M521.2,183.3L522.5,186.4L525.9,186.7L523.3,188.9L524.1,192.1L521.2,190.4L518.4,192.1L519.2,188.9L516.6,186.7L520.0,186.4Z" fill="#808080"/>
<rect x="529.7" y="172.1" width="6.2" height="6.2" fill="#808080"/>
<circle cx="514.3" cy="193.1" r="3.8" fill="#808080"/>
<circle cx="534.8" cy="171.2" r="3.8" fill="#808080"/>
<path d="M514.2,185.7L517.9,190.3L514.2,194.9L510.5,190.3Z" fill="#808080"/>
<circle cx="517.0" cy="189.5" r="3.8" fill="#808080"/>
<path d="M537.0,170.4L540.7,175.0L537.0,179.6L533.3,175.0Z" fill="#808080"/>
<path d="M529.2,170.8L532.9,175.4L529.2,180.0L525.5,175.4Z" fill="#808080"/>
<circle cx="511.1" cy="191.8" r="3.8" fill="#808080"/>
<rect x="517.1" y="182.0" width="6.2" height="6.2" fill="#808080"/>
<circle cx="544.4" cy="170.3" r="3.8" fill="#808080"/>
<path d="M537.5,161.4L541.2,166.0L537.5,170.6L533.8,166.0Z" fill="#808080"/>
<path d="M533.8,161.2L535.1,164.3L538.5,164.6L535.9,166.8L536.7,170.1L533.8,168.3L531.0,170.1L531.7,166.8L529.2,164.6L532.5,164.3Z" fill="#808080"/>
<rect x="519.9" y="177.5" width="6.2" height="6.2" fill="#808080"/>
<path d="M524.8,172.3L526.1,175.4L529.4,175.7L526.9,177.9L527.7,181.2L524.8,179.4L521.9,181.2L522.7,177.9L520.1,175.7L523.5,175.4Z" fill="#808080"/>
<path d="M510.7,190.2L514.4,194.8L510.7,199.4L507.0,194.8Z" fill="#808080"/>
<line x1="504.0" y1="201.5" x2="628.6" y2="76.0" stroke="#1e1e1e" stroke-width="1.4" stroke-linecap="butt"/>
</g>
<g clip-path="url(#ci)">
<path d="M91.5,392.5V402.5M88.0,392.5H95.0M88.0,402.5H95.0" stroke="#3D8FCB" stroke-width="1" fill="none"/>
<path d="M97.5,400.5V417.5M94.0,400.5H101.0M94.0,417.5H101.0" stroke="#3D8FCB" stroke-width="1" fill="none"/>
<path d="M90.5,412.5V423.5M87.0,412.5H94.0M87.0,423.5H94.0" stroke="#3D8FCB" stroke-width="1" fill="none"/>
<path d="M86.5,402.5V412.5M83.5,402.5H89.5M83.5,412.5H89.5" stroke="#3D8FCB" stroke-width="1" fill="none"/>
<path d="M74.8,420.1L78.5,424.7L74.8,429.3L71.1,424.7Z" fill="#0072BD"/>
<path d="M79.4,417.4L83.1,422.0L79.4,426.6L75.7,422.0Z" fill="#0072BD"/>
<path d="M83.3,411.8L87.0,416.4L83.3,421.0L79.6,416.4Z" fill="#0072BD"/>
<path d="M72.3,428.7L76.0,433.3L72.3,437.9L68.6,433.3Z" fill="#0072BD"/>
<path d="M73.4,426.8L77.1,431.4L73.4,436.0L69.7,431.4Z" fill="#0072BD"/>
<path d="M77.9,421.7L81.6,426.3L77.9,430.9L74.2,426.3Z" fill="#0072BD"/>
<path d="M75.6,422.4L79.3,427.0L75.6,431.6L71.9,427.0Z" fill="#0072BD"/>
<path d="M71.9,427.1L75.6,431.7L71.9,436.3L68.2,431.7Z" fill="#0072BD"/>
<path d="M79.6,421.9L83.3,426.5L79.6,431.1L75.9,426.5Z" fill="#0072BD"/>
<path d="M72.7,425.2L76.4,429.8L72.7,434.4L69.0,429.8Z" fill="#0072BD"/>
<path d="M68.8,428.5L72.5,433.1L68.8,437.7L65.1,433.1Z" fill="#0072BD"/>
<path d="M80.9,419.4L84.6,424.0L80.9,428.6L77.2,424.0Z" fill="#0072BD"/>
<path d="M85.4,412.3L89.1,416.9L85.4,421.5L81.7,416.9Z" fill="#0072BD"/>
<path d="M73.7,422.9L77.4,427.5L73.7,432.1L70.0,427.5Z" fill="#0072BD"/>
<path d="M86.5,407.0L90.2,411.6L86.5,416.2L82.8,411.6Z" fill="#0072BD"/>
<path d="M88.7,409.9L92.4,414.5L88.7,419.1L85.0,414.5Z" fill="#0072BD"/>
<path d="M84.6,414.9L88.3,419.5L84.6,424.1L80.9,419.5Z" fill="#0072BD"/>
<path d="M76.5,420.0L80.2,424.6L76.5,429.2L72.8,424.6Z" fill="#0072BD"/>
<path d="M75.6,426.1L79.3,430.7L75.6,435.3L71.9,430.7Z" fill="#0072BD"/>
<path d="M84.2,406.4L87.9,411.0L84.2,415.6L80.5,411.0Z" fill="#0072BD"/>
<path d="M80.8,412.1L84.5,416.7L80.8,421.3L77.1,416.7Z" fill="#0072BD"/>
<path d="M74.5,424.7L78.2,429.3L74.5,433.9L70.8,429.3Z" fill="#0072BD"/>
<path d="M70.9,429.1L74.6,433.7L70.9,438.3L67.2,433.7Z" fill="#0072BD"/>
<path d="M89.1,407.4L92.8,412.0L89.1,416.6L85.4,412.0Z" fill="#0072BD"/>
<path d="M77.4,417.4L81.1,422.0L77.4,426.6L73.7,422.0Z" fill="#0072BD"/>
<path d="M81.7,417.1L85.4,421.7L81.7,426.3L78.0,421.7Z" fill="#0072BD"/>
<path d="M91.4,410.3L95.1,414.9L91.4,419.5L87.7,414.9Z" fill="#0072BD"/>
<path d="M84.2,416.9L87.9,421.5L84.2,426.1L80.5,421.5Z" fill="#0072BD"/>
<path d="M87.5,414.7L91.2,419.3L87.5,423.9L83.8,419.3Z" fill="#0072BD"/>
<path d="M82.6,414.5L86.3,419.1L82.6,423.7L78.9,419.1Z" fill="#0072BD"/>
<path d="M70.3,427.7L74.0,432.3L70.3,436.9L66.6,432.3Z" fill="#0072BD"/>
<path d="M80.0,414.9L83.7,419.5L80.0,424.1L76.3,419.5Z" fill="#0072BD"/>
<path d="M86.3,409.4L90.0,414.0L86.3,418.6L82.6,414.0Z" fill="#0072BD"/>
<path d="M88.1,412.3L91.8,416.9L88.1,421.5L84.4,416.9Z" fill="#0072BD"/>
<path d="M78.4,419.9L82.1,424.5L78.4,429.1L74.7,424.5Z" fill="#0072BD"/>
<path d="M86.7,404.3L90.4,408.9L86.7,413.5L83.0,408.9Z" fill="#0072BD"/>
<path d="M71.3,425.4L75.0,430.0L71.3,434.6L67.6,430.0Z" fill="#0072BD"/>
<path d="M76.9,423.8L80.6,428.4L76.9,433.0L73.2,428.4Z" fill="#0072BD"/>
<path d="M83.2,419.3L86.9,423.9L83.2,428.5L79.5,423.9Z" fill="#0072BD"/>
<path d="M83.6,409.5L87.3,414.1L83.6,418.7L79.9,414.1Z" fill="#0072BD"/>
<path d="M91.3,392.9L95.0,397.5L91.3,402.1L87.6,397.5Z" fill="#0072BD"/>
<path d="M97.9,404.2L101.6,408.8L97.9,413.4L94.2,408.8Z" fill="#0072BD"/>
<path d="M90.5,413.7L94.2,418.3L90.5,422.9L86.8,418.3Z" fill="#0072BD"/>
<path d="M86.9,402.7L90.6,407.3L86.9,411.9L83.2,407.3Z" fill="#0072BD"/>
<path d="M84.0,407.4L87.7,412.0L84.0,416.6L80.3,412.0Z" fill="#0072BD"/>
<line x1="67.5" y1="434.5" x2="97.9" y2="404.1" stroke="#1e1e1e" stroke-width="1.4" stroke-linecap="butt"/>
</g>
<g clip-path="url(#cj)">
<path d="M411.5,260.5V300.5M408.3,260.5H414.7M408.3,300.5H414.7" stroke="#adadad" stroke-width="1" fill="none"/>
<path d="M371.5,344.5V370.5M368.3,344.5H374.7M368.3,370.5H374.7" stroke="#adadad" stroke-width="1" fill="none"/>
<path d="M346.5,359.5V380.5M343.3,359.5H349.7M343.3,380.5H349.7" stroke="#adadad" stroke-width="1" fill="none"/>
<path d="M345.5,368.5V387.5M342.3,368.5H348.7M342.3,387.5H348.7" stroke="#F2C661" stroke-width="1" fill="none"/>
<path d="M326.5,375.5V388.5M323.3,375.5H329.7M323.3,388.5H329.7" stroke="#adadad" stroke-width="1" fill="none"/>
<path d="M326.5,388.5V402.5M323.3,388.5H329.7M323.3,402.5H329.7" stroke="#adadad" stroke-width="1" fill="none"/>
<path d="M317.5,392.5V404.5M314.3,392.5H320.7M314.3,404.5H320.7" stroke="#F2C661" stroke-width="1" fill="none"/>
<path d="M309.5,399.5V409.5M306.3,399.5H312.7M306.3,409.5H312.7" stroke="#3D8FCB" stroke-width="1" fill="none"/>
<path d="M316.5,404.5V416.5M313.3,404.5H319.7M313.3,416.5H319.7" stroke="#3D8FCB" stroke-width="1" fill="none"/>
<path d="M309.5,417.5V425.5M306.3,417.5H312.7M306.3,425.5H312.7" stroke="#3D8FCB" stroke-width="1" fill="none"/>
<path d="M305.5,403.5V413.5M302.3,403.5H308.7M302.3,413.5H308.7" stroke="#F2C661" stroke-width="1" fill="none"/>
<path d="M318.5,401.5V412.5M315.3,401.5H321.7M315.3,412.5H321.7" stroke="#adadad" stroke-width="1" fill="none"/>
<path d="M293.5,428.7L297.2,433.3L293.5,437.9L289.8,433.3Z" fill="#808080"/>
<path d="M295.8,431.0L299.5,435.6L295.8,440.2L292.1,435.6Z" fill="#808080"/>
<path d="M298.0,427.4L301.7,432.0L298.0,436.6L294.3,432.0Z" fill="#808080"/>
<path d="M285.4,431.4L289.1,436.0L285.4,440.6L281.7,436.0Z" fill="#EDB120"/>
<path d="M305.0,403.4L308.7,408.0L305.0,412.6L301.3,408.0Z" fill="#EDB120"/>
<path d="M300.4,411.4L304.1,416.0L300.4,420.6L296.7,416.0Z" fill="#EDB120"/>
<path d="M291.2,417.2L294.9,421.8L291.2,426.4L287.5,421.8Z" fill="#EDB120"/>
<path d="M296.0,414.4L299.7,419.0L296.0,423.6L292.3,419.0Z" fill="#EDB120"/>
<path d="M300.5,414.6L304.2,419.2L300.5,423.8L296.8,419.2Z" fill="#0072BD"/>
<path d="M297.7,422.9L301.4,427.5L297.7,432.1L294.0,427.5Z" fill="#0072BD"/>
<path d="M302.3,407.8L306.0,412.4L302.3,417.0L298.6,412.4Z" fill="#0072BD"/>
<path d="M289.5,428.9L293.2,433.5L289.5,438.1L285.8,433.5Z" fill="#0072BD"/>
<path d="M309.4,405.6L313.1,410.2L309.4,414.8L305.7,410.2Z" fill="#0072BD"/>
<path d="M293.3,426.0L297.0,430.6L293.3,435.2L289.6,430.6Z" fill="#0072BD"/>
<path d="M312.1,409.6L315.8,414.2L312.1,418.8L308.4,414.2Z" fill="#0072BD"/>
<path d="M289.5,423.6L293.2,428.2L289.5,432.8L285.8,428.2Z" fill="#0072BD"/>
<path d="M291.9,423.5L295.6,428.1L291.9,432.7L288.2,428.1Z" fill="#0072BD"/>
<path d="M306.0,405.0L309.7,409.6L306.0,414.2L302.3,409.6Z" fill="#0072BD"/>
<path d="M301.2,420.9L304.9,425.5L301.2,430.1L297.5,425.5Z" fill="#0072BD"/>
<path d="M293.1,420.4L296.8,425.0L293.1,429.6L289.4,425.0Z" fill="#0072BD"/>
<path d="M302.7,417.7L306.4,422.3L302.7,426.9L299.0,422.3Z" fill="#0072BD"/>
<path d="M305.4,408.4L309.1,413.0L305.4,417.6L301.7,413.0Z" fill="#0072BD"/>
<path d="M305.8,418.2L309.5,422.8L305.8,427.4L302.1,422.8Z" fill="#0072BD"/>
<path d="M295.8,420.3L299.5,424.9L295.8,429.5L292.1,424.9Z" fill="#0072BD"/>
<path d="M304.6,411.6L308.3,416.2L304.6,420.8L300.9,416.2Z" fill="#0072BD"/>
<path d="M298.9,420.1L302.6,424.7L298.9,429.3L295.2,424.7Z" fill="#0072BD"/>
<path d="M312.9,406.3L316.6,410.9L312.9,415.5L309.2,410.9Z" fill="#0072BD"/>
<path d="M306.1,402.0L309.8,406.6L306.1,411.2L302.4,406.6Z" fill="#0072BD"/>
<path d="M292.3,428.4L296.0,433.0L292.3,437.6L288.6,433.0Z" fill="#0072BD"/>
<path d="M308.3,409.3L312.0,413.9L308.3,418.5L304.6,413.9Z" fill="#0072BD"/>
<path d="M307.4,412.5L311.1,417.1L307.4,421.7L303.7,417.1Z" fill="#0072BD"/>
<path d="M301.7,411.0L305.4,415.6L301.7,420.2L298.0,415.6Z" fill="#0072BD"/>
<path d="M288.5,426.3L292.2,430.9L288.5,435.5L284.8,430.9Z" fill="#0072BD"/>
<path d="M310.7,413.1L314.4,417.7L310.7,422.3L307.0,417.7Z" fill="#0072BD"/>
<path d="M296.4,425.6L300.1,430.2L296.4,434.8L292.7,430.2Z" fill="#0072BD"/>
<path d="M299.9,417.2L303.6,421.8L299.9,426.4L296.2,421.8Z" fill="#0072BD"/>
<path d="M296.8,417.4L300.5,422.0L296.8,426.6L293.1,422.0Z" fill="#0072BD"/>
<path d="M291.3,425.7L295.0,430.3L291.3,434.9L287.6,430.3Z" fill="#0072BD"/>
<path d="M294.9,422.9L298.6,427.5L294.9,432.1L291.2,427.5Z" fill="#0072BD"/>
<path d="M303.3,415.1L307.0,419.7L303.3,424.3L299.6,419.7Z" fill="#0072BD"/>
<path d="M286.3,426.7L290.0,431.3L286.3,435.9L282.6,431.3Z" fill="#0072BD"/>
<path d="M297.8,414.2L301.5,418.8L297.8,423.4L294.1,418.8Z" fill="#0072BD"/>
<path d="M306.7,415.3L310.4,419.9L306.7,424.5L303.0,419.9Z" fill="#0072BD"/>
<path d="M293.9,417.6L297.6,422.2L293.9,426.8L290.2,422.2Z" fill="#0072BD"/>
<path d="M411.3,277.7L415.0,282.3L411.3,286.9L407.6,282.3Z" fill="#808080"/>
<path d="M371.5,353.0L375.2,357.6L371.5,362.2L367.8,357.6Z" fill="#808080"/>
<path d="M346.2,364.9L349.9,369.5L346.2,374.1L342.5,369.5Z" fill="#808080"/>
<path d="M345.5,373.7L349.2,378.3L345.5,382.9L341.8,378.3Z" fill="#EDB120"/>
<path d="M326.0,377.1L329.7,381.7L326.0,386.3L322.3,381.7Z" fill="#808080"/>
<path d="M326.3,392.5L330.0,397.1L326.3,401.7L322.6,397.1Z" fill="#808080"/>
<path d="M317.6,391.9L321.3,396.5L317.6,401.1L313.9,396.5Z" fill="#EDB120"/>
<path d="M318.8,402.2L322.5,406.8L318.8,411.4L315.1,406.8Z" fill="#808080"/>
<path d="M310.7,408.6L314.4,413.2L310.7,417.8L307.0,413.2Z" fill="#808080"/>
<path d="M309.6,399.4L313.3,404.0L309.6,408.6L305.9,404.0Z" fill="#0072BD"/>
<path d="M316.5,406.3L320.2,410.9L316.5,415.5L312.8,410.9Z" fill="#0072BD"/>
<path d="M309.6,417.2L313.3,421.8L309.6,426.4L305.9,421.8Z" fill="#0072BD"/>
<line x1="286.3" y1="434.5" x2="411.3" y2="309.2" stroke="#1e1e1e" stroke-width="1.4" stroke-linecap="butt"/>
</g>
<text transform="translate(22.8,114) rotate(-90)" text-anchor="middle" style="font-size:14px;font-weight:bold">3-Schicht-Modell</text>
<line x1="503.7" y1="303.8" x2="534.8" y2="303.8" stroke="#EDB120" stroke-width="1.5"/>
<text x="542.5" y="307.70" class="lg">Obere Filterstrecke</text>
<line x1="503.7" y1="321.0" x2="534.8" y2="321.0" stroke="#808080" stroke-width="1.5"/>
<text x="542.5" y="324.90" class="lg">Mittlere Filterstrecke</text>
<line x1="503.7" y1="338.2" x2="534.8" y2="338.2" stroke="#0072BD" stroke-width="1.5"/>
<text x="542.5" y="342.10" class="lg">Untere Filterstrecke</text>
<rect x="515.8" y="351.90" width="7" height="7" fill="none" stroke="#222" stroke-width="1.2"/>
<text x="542.5" y="359.30" class="lg">Norden</text>
<path d="M519.3,366.40 L523.8,372.60 L519.3,378.80 L514.8,372.60 Z" fill="none" stroke="#222" stroke-width="1.3"/>
<text x="542.5" y="376.50" class="lg">Osten</text>
<circle cx="519.3" cy="389.80" r="4.6" fill="none" stroke="#222" stroke-width="1.3"/>
<text x="542.5" y="393.70" class="lg">Süden</text>
<path d="M519.30,401.30 L520.83,405.39 L525.20,405.58 L521.78,408.30 L522.94,412.52 L519.30,410.10 L515.66,412.52 L516.82,408.30 L513.40,405.58 L517.77,405.39 Z" fill="none" stroke="#222" stroke-width="1.1"/>
<text x="542.5" y="410.90" class="lg">Westen</text>
</svg></body></html>
